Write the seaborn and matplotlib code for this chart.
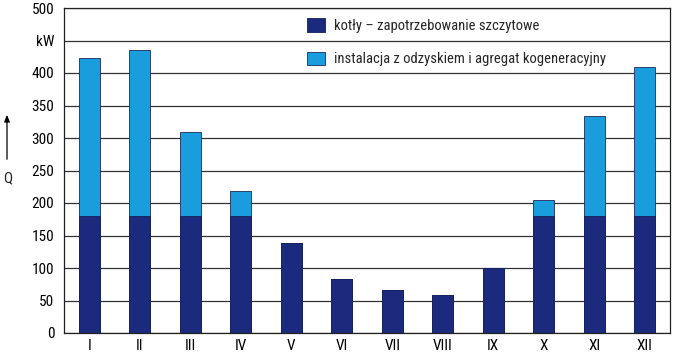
import matplotlib
matplotlib.use("Agg")
import matplotlib.pyplot as plt
import seaborn as sns
import pandas as pd
from matplotlib import font_manager

months = ["I", "II", "III", "IV", "V", "VI", "VII", "VIII", "IX", "X", "XI", "XII"]
kotly = [180, 180, 180, 180, 138, 83, 66, 59, 100, 180, 180, 180]
odzysk = [243, 256, 130, 38, 0, 0, 0, 0, 0, 24, 154, 229]
ytick_vals = [0, 50, 100, 150, 200, 250, 300, 350, 400, 450, 500]
ytick_labels = ["0", "50", "100", "150", "200", "250", "300", "350", "400", "kW", "500"]
label_kotly = "kotły – zapotrzebowanie szczytowe"
label_odzysk = "instalacja z odzyskiem i agregat kogeneracyjny"

sns.set_style("white")
names = {f.name for f in font_manager.fontManager.ttflist}
fam = "DejaVu Sans"
for cand in ["Roboto Condensed", "Liberation Sans Narrow", "PT Sans Narrow", "Archivo Narrow"]:
    if cand in names:
        fam = cand
        break
plt.rcParams["font.family"] = [fam, "DejaVu Sans"]

dark = "#1c2a7e"
light = "#1a9ddc"

df = pd.DataFrame({"month": months, "kotly": kotly,
                   "total": [a + b for a, b in zip(kotly, odzysk)]})

fig = plt.figure(figsize=(6.74, 3.55), dpi=100)
ax = fig.add_axes([64 / 674, 22 / 355, 606 / 674, 325 / 355])

sns.barplot(data=df, x="month", y="total", color=light, width=0.41,
            edgecolor="#1a2a5a", linewidth=0.6, saturation=1, ax=ax, label=label_odzysk)
sns.barplot(data=df, x="month", y="kotly", color=dark, width=0.41,
            edgecolor="#14205a", linewidth=0.6, saturation=1, ax=ax, label=label_kotly)

ax.set_xlim(-0.5, 11.5)
ax.set_ylim(0, 500)
ax.set_yticks(ytick_vals)
ax.set_yticklabels(ytick_labels)
ax.yaxis.grid(True, color="#333333", linewidth=0.9)
ax.set_axisbelow(True)
ax.tick_params(axis="both", length=0, labelsize=11, colors="black", pad=7)
ax.tick_params(axis="x", pad=4)
ax.set_xlabel("")
ax.set_ylabel("")
for s in ax.spines.values():
    s.set_visible(True)
    s.set_color("#222222")
    s.set_linewidth(0.9)

handles, labels = ax.get_legend_handles_labels()
order = [labels.index(label_kotly), labels.index(label_odzysk)]
ax.legend([handles[i] for i in order], [labels[i] for i in order],
          loc="upper left", bbox_to_anchor=(232 / 606, 1.0), frameon=False,
          fontsize=10.5, labelspacing=1.3, handlelength=1.25, handleheight=1.0,
          handletextpad=0.65, borderaxespad=0.0, borderpad=0.72)

fig.text(8 / 674, 1 - 178 / 355, "Q", fontsize=11, ha="center", va="center")
fig.add_artist(matplotlib.patches.FancyArrowPatch(
    (7 / 674, 1 - 162 / 355), (7 / 674, 1 - 112 / 355), transform=fig.transFigure,
    arrowstyle="-|>,head_length=4,head_width=1.6", color="black", linewidth=0.9))

fig.savefig("out.png", dpi=100)
